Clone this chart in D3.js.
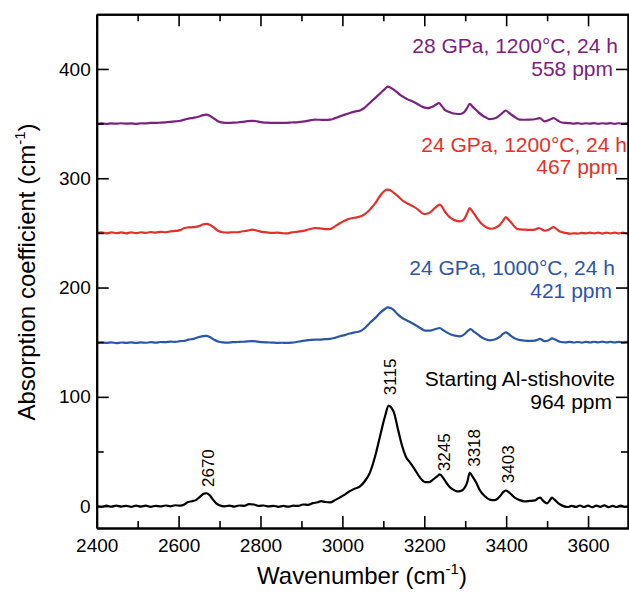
<!DOCTYPE html>
<html>
<head>
<meta charset="utf-8">
<script src="https://cdn.jsdelivr.net/npm/d3@7"></script>
<style>
  body { margin: 0; background: #fff; }
  svg { display: block; font-family: "Liberation Sans", Arial, Helvetica, sans-serif; }
</style>
</head>
<body>
<svg width="629" height="593"></svg>
<script>
"use strict";

// 축 눈금
const xTicks = [2400, 2600, 2800, 3000, 3200, 3400, 3600];
const xMinorTicks = [2500, 2700, 2900, 3100, 3300, 3500];
const yTicks = [0, 100, 200, 300, 400];
const yMinorTicks = [50, 150, 250, 350];

// 스펙트럼 (wavenumber, absorption) - 그림에서 읽은 값
const starting = [
  [2400,0],[2412,-0.6],[2424,0.4],[2436,-0.5],[2448,0.5],[2460,-0.4],[2472,0.3],[2484,-0.6],[2496,0.5],
  [2508,-0.4],[2520,0.4],[2532,-0.6],[2544,0.3],[2556,-0.3],[2568,0.6],[2580,-0.2],[2592,0.8],[2604,0.4],
  [2614,1.5],[2622,3.5],[2632,4.5],[2642,5.5],[2652,8.5],[2662,11.5],[2668,11.8],[2676,10],[2684,6],
  [2692,2.5],[2700,0.8],[2712,-0.3],[2724,0.5],[2736,-0.5],[2748,0.6],[2760,0.3],[2772,1.8],[2784,1.5],
  [2796,0.2],[2808,0.6],[2820,-0.3],[2832,0.3],[2844,-0.6],[2856,0.2],[2868,-0.5],[2880,0.4],[2892,0.2],
  [2904,1.5],[2916,1.2],[2928,2.8],[2940,3.5],[2948,4.6],[2958,3.8],[2970,3.4],[2982,5.5],[2994,8],
  [3006,10.5],[3018,13.7],[3030,16],[3043,18],[3055,23],[3067,30.5],[3080,45.7],[3092,64],[3104,82],
  [3113,92],[3120,90],[3126,85.6],[3136,70],[3146,55],[3156,44.5],[3165,40],[3177,33.5],[3190,26],
  [3202,22],[3212,22],[3222,24.4],[3232,27.5],[3238,29],[3246,26],[3254,21.4],[3262,17.5],[3270,15.3],
  [3280,13.5],[3290,14],[3298,16.5],[3305,22],[3311,30.5],[3318,27],[3327,21.4],[3335,15],[3348,9],
  [3360,6],[3372,5.5],[3385,9],[3392,12.5],[3399,14.3],[3409,12],[3421,7.7],[3433,5.5],[3445,4.4],
  [3458,4.8],[3470,5.2],[3478,7.2],[3483,7.7],[3490,5],[3500,2.5],[3506,5],[3512,7.7],[3518,6],
  [3525,3.5],[3532,1.5],[3540,0],[3550,-0.8],[3560,0.3],[3570,-0.7],[3580,0.6],[3590,-0.8],[3600,0.5],
  [3610,-0.9],[3620,0.4],[3630,-0.6],[3640,0.7],[3650,-0.9],[3660,0.3],[3670,-0.8],[3680,0.5],
  [3690,-0.7],[3700,0]
];

const gpa24t1000 = [
  [2400,149.5],[2412,149.9],[2424,149.3],[2436,149.8],[2448,149.2],[2460,149.7],[2472,149.4],[2484,149.9],
  [2496,149.3],[2508,149.8],[2520,149.5],[2532,150],[2544,149.6],[2556,150.2],[2568,150],[2580,150.5],
  [2592,150.3],[2604,151],[2614,151.2],[2624,152.4],[2636,153],[2648,154.5],[2660,155.5],[2668,155.8],
  [2676,154.8],[2686,152.5],[2696,150.6],[2708,149.8],[2720,149.6],[2732,150],[2744,150.2],[2756,150.4],
  [2768,150.8],[2780,151],[2792,150.6],[2804,150],[2816,149.8],[2828,149.6],[2840,149.4],[2852,149.5],
  [2864,149.3],[2876,149.6],[2888,150.2],[2900,151],[2912,151.6],[2924,152.2],[2945,152.4],[2958,152.8],
  [2970,153],[2982,154],[2994,155.4],[3006,156.5],[3018,157.9],[3030,159],[3043,160],[3055,163],
  [3067,167.6],[3080,172],[3092,176.8],[3104,180.4],[3111,181.9],[3118,181.2],[3124,179.8],[3136,175.2],
  [3145,172.5],[3153,170.7],[3165,168.5],[3177,166],[3190,163],[3202,160.6],[3214,160.6],[3226,161.8],
  [3238,163],[3246,161],[3255,159],[3265,157],[3275,156],[3287,155.4],[3299,157.5],[3307,160.5],
  [3313,162],[3320,160],[3328,157.9],[3338,155],[3348,153],[3360,151.7],[3372,152.4],[3385,155],
  [3392,157.5],[3399,159],[3406,157.5],[3413,155.4],[3428,152.4],[3445,151.4],[3458,151.2],[3470,151.4],
  [3476,152.2],[3482,153],[3494,151],[3503,151.5],[3512,153.5],[3520,152.4],[3531,150.4],[3545,149.8],
  [3555,150.3],[3565,149.7],[3575,150.2],[3585,149.6],[3595,150.3],[3605,149.7],[3615,150.4],[3625,149.8],
  [3635,150.5],[3645,149.8],[3655,150.4],[3665,149.7],[3675,150.3],[3685,149.8],[3695,150.3],[3700,150]
];

const gpa24t1200 = [
  [2400,249.8],[2412,250.4],[2424,249.6],[2436,250.5],[2448,249.7],[2460,250.4],[2472,249.6],[2484,250.5],
  [2496,249.7],[2508,250.6],[2520,250],[2532,250.8],[2544,250.3],[2556,251],[2568,250.6],[2580,251.4],
  [2592,251.8],[2604,252.5],[2614,254.5],[2624,255],[2636,255.2],[2648,256],[2660,257.8],[2668,258.2],
  [2676,257.5],[2686,255],[2696,252],[2708,250.6],[2720,250.2],[2732,250.6],[2744,250.6],[2756,251.5],
  [2768,252],[2780,253],[2792,252],[2804,251],[2816,250.4],[2828,250],[2840,250.2],[2852,249.8],
  [2864,249.5],[2876,250.4],[2888,251],[2900,251.6],[2912,252.6],[2924,253.8],[2933,254.5],[2945,254.2],
  [2957,253.5],[2970,253.5],[2982,256],[2994,258.8],[3004,260.8],[3013,262.4],[3024,263.5],[3035,264.2],
  [3047,265.4],[3062,269.3],[3070,272.5],[3080,277],[3094,284.9],[3103,288.5],[3109,289.5],[3115,289.3],
  [3121,288],[3128,286],[3136,283.4],[3150,278.8],[3165,275.8],[3175,273.8],[3185,271.3],[3199,267.3],
  [3206,267.5],[3214,268.8],[3226,272.8],[3238,275.8],[3245,273],[3250,269.7],[3258,266],[3267,263],
  [3277,261.2],[3287,260.6],[3294,261.5],[3299,263.6],[3306,269],[3311,272.8],[3318,269.5],[3326,265.1],
  [3340,258.4],[3355,254.5],[3365,253.8],[3372,254.5],[3385,257.5],[3393,261.5],[3399,264.5],[3406,262],
  [3413,259],[3428,253.5],[3445,253],[3458,252.8],[3470,253],[3480,254.5],[3494,252],[3505,253.2],
  [3516,255.3],[3524,253.2],[3531,251.2],[3545,250],[3555,249.3],[3565,249.6],[3575,249.4],[3585,250],
  [3595,249.5],[3605,250.2],[3615,249.6],[3625,250.2],[3635,249.4],[3645,250.3],[3655,249.6],[3665,250.3],
  [3675,249.5],[3685,250.2],[3695,249.6],[3700,250]
];

const gpa28t1200 = [
  [2400,349.8],[2412,350.2],[2424,349.8],[2436,350.2],[2448,349.9],[2460,350.3],[2472,349.9],[2484,350.2],
  [2496,349.8],[2508,350.3],[2520,350.2],[2532,350.6],[2544,350.6],[2556,350.9],[2568,351.2],[2580,351.5],
  [2592,352],[2604,352.6],[2614,353.6],[2624,354.5],[2636,355.3],[2648,356.3],[2660,357.8],[2668,358.2],
  [2676,357.2],[2686,354.8],[2696,352.2],[2708,350.9],[2720,350.6],[2732,350.8],[2744,351],[2756,351.5],
  [2768,352.2],[2780,352.5],[2792,352],[2804,351.2],[2816,350.8],[2828,350.7],[2840,350.6],[2852,350.6],
  [2864,350.7],[2876,351],[2888,351.2],[2900,351.7],[2912,352.3],[2924,353.2],[2933,353.6],[2945,353.5],
  [2958,353.4],[2970,353.6],[2982,355],[2994,356.6],[3006,358.2],[3018,359.7],[3030,361],[3043,362],
  [3052,363.8],[3062,367.2],[3070,370],[3080,373.3],[3090,376.8],[3097,379.4],[3104,381.8],[3111,383.9],
  [3118,382.8],[3126,380.9],[3134,378.5],[3141,376.3],[3150,374.2],[3158,372.4],[3168,370.8],[3177,369.3],
  [3186,367.4],[3194,365.6],[3201,364.6],[3209,364.2],[3215,364.7],[3221,365.6],[3228,367.2],[3236,368.7],
  [3243,366],[3250,362.6],[3258,361],[3267,359.7],[3277,359],[3287,358.8],[3294,359.6],[3299,361.1],
  [3305,364.5],[3311,368.1],[3318,365.5],[3326,362.6],[3334,359.8],[3343,357.2],[3351,355.5],[3360,354.1],
  [3368,354.4],[3377,355.6],[3388,358.8],[3395,361.2],[3399,362],[3406,360.2],[3413,358.1],[3422,355.8],
  [3433,353.6],[3445,353.5],[3457,353.6],[3470,354],[3482,355],[3494,352.1],[3505,353.4],[3516,355],
  [3526,352.8],[3536,351],[3545,350.6],[3555,350.4],[3565,349.9],[3575,350.4],[3585,349.8],[3595,350.3],
  [3605,349.9],[3615,350.4],[3625,349.8],[3635,350.3],[3645,349.9],[3655,350.4],[3665,349.8],[3675,350.3],
  [3685,349.9],[3695,350.3],[3700,350]
];

// 범례 텍스트와 색
const seriesLabels = ["Starting Al-stishovite", "24 GPa, 1000°C, 24 h", "24 GPa, 1200°C, 24 h", "28 GPa, 1200°C, 24 h"];
const seriesPpm = ["964 ppm", "421 ppm", "467 ppm", "558 ppm"];
const seriesColors = ["#000000", "#2b55a9", "#e4302a", "#7b2180"];

// 피크 라벨 (출발 시료)
const peakNames = ["2670", "3115", "3245", "3318", "3403"];
const peakAt = [2670, 3115, 3245, 3318, 3403];
const peakLabelBase = [17.5, 101.5, 32, 36, 21];

const allSeries = [starting, gpa24t1000, gpa24t1200, gpa28t1200];

const svg = d3.select("svg");
const plotL = 96.7, plotR = 629, plotT = 14.3, plotB = 528;

const x = d3.scaleLinear().domain([2400, 3700]).range([plotL, plotR]);
const y = d3.scaleLinear().domain([-20, 450]).range([plotB, plotT]);

// 곡선
svg.append("clipPath").attr("id", "clip")
  .append("rect").attr("x", plotL).attr("y", plotT).attr("width", plotR - plotL).attr("height", plotB - plotT);

const line = d3.line().x(d => x(d[0])).y(d => y(d[1])).curve(d3.curveMonotoneX);

svg.append("g").attr("clip-path", "url(#clip)")
  .selectAll("path")
  .data(allSeries)
  .join("path")
  .attr("d", line)
  .attr("fill", "none")
  .attr("stroke", (d, i) => seriesColors[i])
  .attr("stroke-width", 2.2)
  .attr("stroke-linejoin", "round");

// 축 (눈금은 안쪽)
function styleAxis(g) {
  g.select(".domain").attr("stroke", "#000").attr("stroke-width", 2);
  g.selectAll(".tick line").attr("stroke", "#000").attr("stroke-width", 1.6);
  g.selectAll(".tick text").attr("fill", "#000").attr("font-size", 19).attr("font-family", null);
}

svg.append("g").attr("transform", `translate(0,${plotB})`)
  .call(d3.axisBottom(x).tickValues(xTicks).tickFormat(d3.format("d")).tickSize(-12).tickSizeOuter(0).tickPadding(11))
  .call(styleAxis);
svg.append("g").attr("transform", `translate(0,${plotB})`)
  .call(d3.axisBottom(x).tickValues(xMinorTicks).tickFormat("").tickSize(-7).tickSizeOuter(0))
  .call(styleAxis);
svg.append("g").attr("transform", `translate(0,${plotT})`)
  .call(d3.axisTop(x).tickValues(xTicks).tickFormat("").tickSize(-12).tickSizeOuter(0))
  .call(styleAxis);
svg.append("g").attr("transform", `translate(0,${plotT})`)
  .call(d3.axisTop(x).tickValues(xMinorTicks).tickFormat("").tickSize(-7).tickSizeOuter(0))
  .call(styleAxis);

svg.append("g").attr("transform", `translate(${plotL},0)`)
  .call(d3.axisLeft(y).tickValues(yTicks).tickSize(-12).tickSizeOuter(0).tickPadding(6))
  .call(styleAxis);
svg.append("g").attr("transform", `translate(${plotL},0)`)
  .call(d3.axisLeft(y).tickValues(yMinorTicks).tickFormat("").tickSize(-7).tickSizeOuter(0))
  .call(styleAxis);
svg.append("g").attr("transform", `translate(${plotR - 1},0)`)
  .call(d3.axisRight(y).tickValues(yTicks).tickFormat("").tickSize(-12).tickSizeOuter(0))
  .call(styleAxis);
svg.append("g").attr("transform", `translate(${plotR - 1},0)`)
  .call(d3.axisRight(y).tickValues(yMinorTicks).tickFormat("").tickSize(-7).tickSizeOuter(0))
  .call(styleAxis);

// 축 제목
const xTitle = svg.append("text")
  .attr("x", 362).attr("y", 584)
  .attr("text-anchor", "middle")
  .attr("font-size", 24);
xTitle.append("tspan").text("Wavenumber (cm");
xTitle.append("tspan").attr("font-size", 15).attr("dy", -10).text("-1");
xTitle.append("tspan").attr("dy", 10).text(")");

const yTitle = svg.append("text")
  .attr("transform", "translate(35,272) rotate(-90)")
  .attr("text-anchor", "middle")
  .attr("font-size", 24);
yTitle.append("tspan").text("Absorption coefficient (cm");
yTitle.append("tspan").attr("font-size", 15).attr("dy", -10).text("-1");
yTitle.append("tspan").attr("dy", 10).text(")");

// 범례 (곡선 옆 텍스트)
const labelEndX = [615, 615, 627, 618];
const labelY = [386, 275, 152, 53];
const ppmEndX = [612, 612, 618, 613];
const ppmY = [409, 298, 174, 76];

seriesLabels.forEach((t, i) => {
  svg.append("text")
    .attr("x", labelEndX[i]).attr("y", labelY[i])
    .attr("text-anchor", "end")
    .attr("font-size", 21)
    .attr("fill", seriesColors[i])
    .text(t);
  svg.append("text")
    .attr("x", ppmEndX[i]).attr("y", ppmY[i])
    .attr("text-anchor", "end")
    .attr("font-size", 21)
    .attr("fill", seriesColors[i])
    .text(seriesPpm[i]);
});

// 피크 위치 라벨 (세로)
svg.append("g")
  .selectAll("text")
  .data(peakNames)
  .join("text")
  .attr("transform", (d, i) => `translate(${x(peakAt[i]) + 7},${y(peakLabelBase[i])}) rotate(-90)`)
  .attr("font-size", 17)
  .text(d => d);
</script>
</body>
</html>
